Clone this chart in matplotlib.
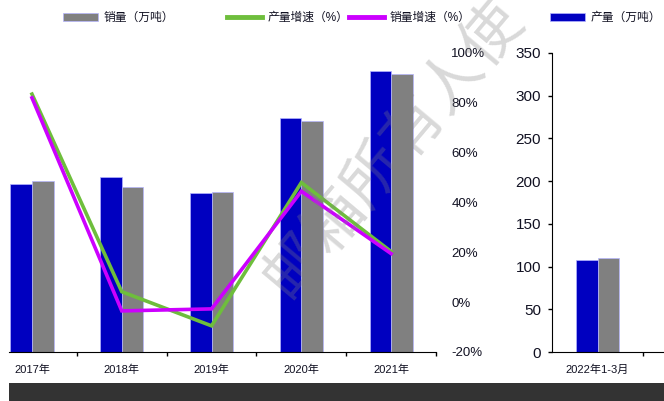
import matplotlib
matplotlib.use("Agg")
import matplotlib.pyplot as plt
from matplotlib.patches import Patch, Rectangle
from matplotlib.lines import Line2D
import numpy as np

plt.rcParams['font.family'] = ['Liberation Sans', 'Noto Sans CJK SC', 'DejaVu Sans']

# annual output / sales (left panel) and latest period (right panel)
years = ['2017年', '2018年', '2019年', '2020年', '2021年']
output = [197, 205, 186, 274, 329]
sales = [200, 193, 187, 270, 325]
output_growth = [83.5, 4.2, -9.5, 48.0, 20.3]
sales_growth = [82.0, -3.5, -2.7, 44.5, 19.5]

period = ['2022年1-3月']
period_output = [108]
period_sales = [110]

BLUE = '#0000C0'
GRAY = '#808080'
GREEN = '#6EBE3C'
PURPLE = '#CC00FF'
EDGE = '#b4b4ff'
TXT = '#111122'

W, H = 664, 401
fig = plt.figure(figsize=(W / 100, H / 100), dpi=100)

def fx(px):
    return px / W

def fy(py):
    return 1 - py / H

bottom = fy(352)
height = fy(53) - bottom

# left panel
ax = fig.add_axes([fx(9), bottom, fx(436) - fx(9), height])
x = np.arange(len(years))
bw = 0.24
ax.bar(x - bw / 2, output, bw, color=BLUE, edgecolor=EDGE, linewidth=0.5, zorder=2)
ax.bar(x + bw / 2, sales, bw, color=GRAY, edgecolor=EDGE, linewidth=0.5, zorder=2)
ax.set_ylim(0, 350)
ax.set_xlim(-0.256, 4.49)
for s in ['left', 'top', 'right']:
    ax.spines[s].set_visible(False)
ax.spines['bottom'].set_color('black')
ax.set_yticks([])
ax.set_xticks(np.arange(0.5, len(years), 1.0))
ax.set_xticklabels([])
ax.set_xticks(x, minor=True)
ax.set_xticklabels(years, minor=True, fontsize=8, color=TXT)
ax.tick_params(axis='x', which='major', direction='out', length=3, width=1, color='black')
ax.tick_params(axis='x', which='minor', length=0, pad=9)

ax2 = ax.twinx()
ax2.plot(x, np.array(output_growth) / 100, color=GREEN, lw=2.6, zorder=3, solid_joinstyle='miter')
ax2.plot(x, np.array(sales_growth) / 100, color=PURPLE, lw=2.6, zorder=4, solid_joinstyle='miter')
ax2.set_ylim(-0.2, 1.0)
ax2.set_yticks(np.arange(-0.2, 1.01, 0.2))
ax2.set_yticklabels([f'{v:.0f}%' for v in np.arange(-20, 101, 20)])
ax2.tick_params(axis='y', length=0, pad=11, labelsize=9.5, labelcolor=TXT)
for s in ax2.spines.values():
    s.set_visible(False)

# right panel
axr = fig.add_axes([fx(552), bottom, 1 - fx(552), height])
xr = np.arange(len(period))
axr.bar(xr - bw / 2, period_output, bw, color=BLUE, edgecolor=EDGE, linewidth=0.5)
axr.bar(xr + bw / 2, period_sales, bw, color=GRAY, edgecolor=EDGE, linewidth=0.5)
axr.set_ylim(0, 350)
axr.set_xlim(-0.5, 0.73)
axr.set_yticks(range(0, 351, 50))
axr.tick_params(axis='y', direction='out', length=3, width=1, pad=5, labelsize=11, labelcolor=TXT)
axr.set_xticks([0.5])
axr.set_xticklabels([])
axr.set_xticks(xr, minor=True)
axr.set_xticklabels(period, minor=True, fontsize=8, color=TXT)
axr.tick_params(axis='x', which='major', direction='out', length=3, width=1)
axr.tick_params(axis='x', which='minor', length=0, pad=9)
for s in ['top', 'right']:
    axr.spines[s].set_visible(False)

# legend row
entries = [
    (Patch(facecolor=GRAY, edgecolor=EDGE, linewidth=0.5), '销量（万吨）', 63),
    (Line2D([], [], color=GREEN, lw=3.5), '产量增速（%）', 227),
    (Line2D([], [], color=PURPLE, lw=3.5), '销量增速（%）', 349),
    (Patch(facecolor=BLUE, edgecolor=EDGE, linewidth=0.5), '产量（万吨）', 550),
]
for handle, label, px in entries:
    fig.legend([handle], [label], loc='center left', bbox_to_anchor=(fx(px), fy(18)),
               frameon=False, borderpad=0, borderaxespad=0, fontsize=8.5,
               handlelength=3.0, handleheight=0.7, handletextpad=0.4, labelcolor=TXT)

# footer band
fig.patches.append(Rectangle((fx(9), 0), 1 - fx(9), 18 / H, transform=fig.transFigure,
                             facecolor='#333333', edgecolor='none', zorder=0))

# watermark
fig.text(fx(393), fy(148), '邮箱所有人使', rotation=50, ha='center', va='center',
         fontsize=44, color='#808080', alpha=0.3, fontweight='light',
         family=['Noto Sans CJK SC'], zorder=10)

fig.savefig('out.png', dpi=100)
